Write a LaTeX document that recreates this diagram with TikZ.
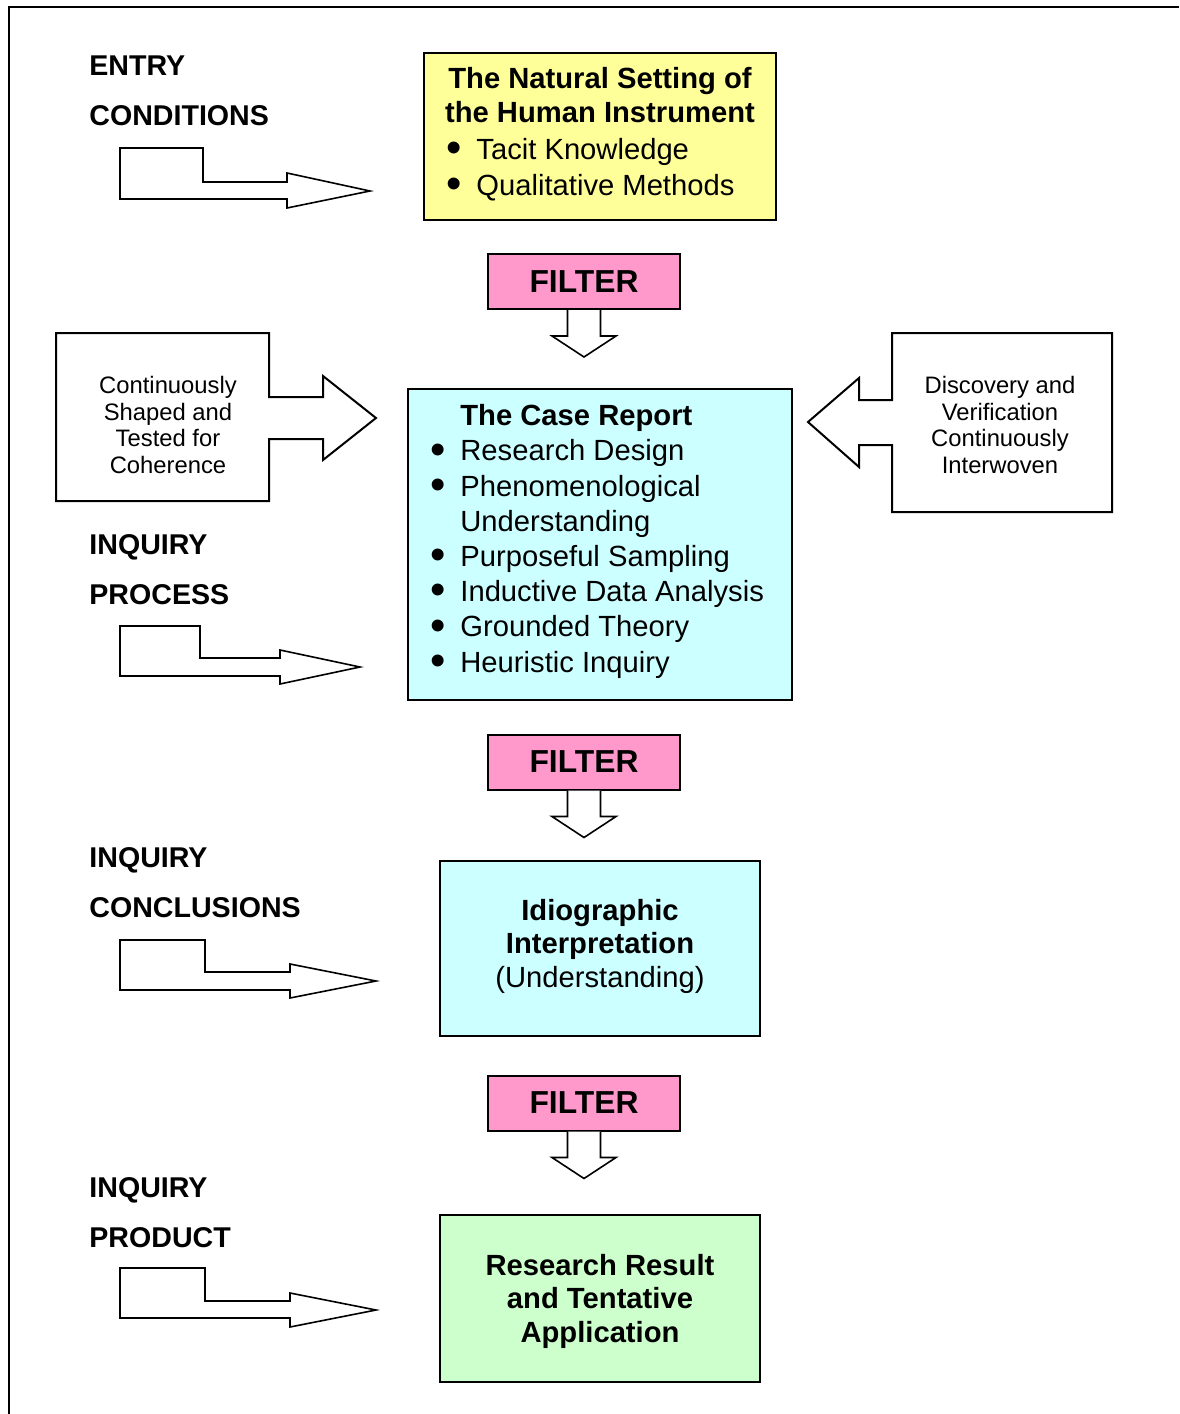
\documentclass[tikz,border=0pt]{standalone}
\usepackage{fontspec}
\usepackage{graphicx}
\setmainfont{Liberation Sans}
\usetikzlibrary{fit, calc}
\definecolor{pad}{RGB}{255,255,153}
\definecolor{rose}{RGB}{255,153,204}
\definecolor{aqua}{RGB}{204,255,255}
\definecolor{mint}{RGB}{204,255,204}
\newcommand{\itm}{\makebox[15pt][l]{\smash{\raisebox{-1.6pt}{\scalebox{1.5}{\textbullet}}}}}

\begin{document}
\begin{tikzpicture}[
  x=0.5pt, y=-0.5pt,
  bx/.style={draw=black, line width=1pt, inner sep=0pt},
  flt/.style={draw=black, line width=1pt, fill=rose, inner sep=0pt,
              minimum width=96pt, minimum height=27.5pt,
              font=\fontsize{15.9}{19}\selectfont\bfseries},
  blk/.style={draw=black, line width=0.8pt, fill=white, line join=miter},
  lbl/.style={anchor=base west, align=left, inner sep=0pt,
              font=\fontsize{14.3}{25}\selectfont\bfseries},
  txt/.style={anchor=base, align=center, inner sep=0pt,
              font=\fontsize{14.6}{16.65}\selectfont},
  lst/.style={anchor=base west, align=left, inner sep=0pt,
              font=\fontsize{14.6}{17.6}\selectfont},
  sd/.style={anchor=base, align=center, inner sep=0pt,
             font=\fontsize{11.9}{13.2}\selectfont}]
  \useasboundingbox (0,0) rectangle (1179,1414);
  \draw[line width=1.3pt] (1179,7) -- (9,7) -- (9,1414);

  \node[bx, fill=pad, fit={(424,53) (776,220)}] (setting) {};
  \node[txt, font=\fontsize{14.6}{16.7}\selectfont\bfseries] (settitle) at (600,122)
    {The Natural Setting of\\the Human Instrument};
  \node[lst, font=\fontsize{14.6}{18}\selectfont] (setlist) at (446,195)
    {\itm Tacit Knowledge\\\itm Qualitative Methods};

  \node[flt] (filterA) at (584,281.5) {FILTER};
  \draw[blk] ($(filterA.south)+(-16.5,0)$) -- ++(0,26) -- ++(-15.5,0)
    -- ($(filterA.south)+(0,47)$) -- ($(filterA.south)+(32,26)$)
    -- ++(-15.5,0) -- ++(0,-26);

  \node[bx, fill=aqua, fit={(408,389) (792,700)}] (report) {};
  \node[lst] (reportlist) at (430,672)
    {\hspace*{15pt}\textbf{The Case Report}\\
     \itm Research Design\\
     \itm Phenomenological\\
     \hspace*{15pt}Understanding\\
     \itm Purposeful Sampling\\
     \itm Inductive Data Analysis\\
     \itm Grounded Theory\\
     \itm Heuristic Inquiry};

  \draw[bx, fill=white] (56,333) -- (269,333) -- (269,397) -- (323,397)
    -- (323,376) -- (376,418) -- (323,460) -- (323,439) -- (269,439)
    -- (269,501) -- (56,501) -- cycle;
  \node[sd] (shaped) at (168,473)
    {Continuously\\Shaped and\\Tested for\\Coherence};
  \draw[bx, fill=white] (1112,333) -- (892,333) -- (892,400) -- (859,400)
    -- (859,378) -- (808,422) -- (859,467) -- (859,445) -- (892,445)
    -- (892,512) -- (1112,512) -- cycle;
  \node[sd] (discovery) at (1000,473)
    {Discovery and\\Verification\\Continuously\\Interwoven};

  \node[lbl] (entry) at (89,125) {ENTRY\\CONDITIONS};
  \draw[blk] (120,148) -- (203,148) -- (203,182) -- (287,182) -- (287,173)
    -- (370,191) -- (287,208) -- (287,199) -- (120,199) -- cycle;
  \node[lbl] (process) at (89,604) {INQUIRY\\PROCESS};
  \draw[blk] (120,626) -- (200,626) -- (200,658) -- (280,658) -- (280,650)
    -- (360,667) -- (280,684) -- (280,676) -- (120,676) -- cycle;
  \node[lbl] (conclusions) at (89,917) {INQUIRY\\CONCLUSIONS};
  \draw[blk] (120,940) -- (205,940) -- (205,972) -- (290,972) -- (290,964)
    -- (376,981) -- (290,998) -- (290,990) -- (120,990) -- cycle;
  \node[lbl] (product) at (89,1247) {INQUIRY\\PRODUCT};
  \draw[blk] (120,1268) -- (205,1268) -- (205,1301) -- (290,1301) -- (290,1293)
    -- (376,1310) -- (290,1327) -- (290,1318) -- (120,1318) -- cycle;

  \node[flt] (filterB) at (584,762) {FILTER};
  \draw[blk] ($(filterB.south)+(-16.5,0)$) -- ++(0,26) -- ++(-15.5,0)
    -- ($(filterB.south)+(0,47)$) -- ($(filterB.south)+(32,26)$)
    -- ++(-15.5,0) -- ++(0,-26);

  \node[bx, fill=aqua, fit={(440,861) (760,1036)}] (idio) {};
  \node[txt] (idiotext) at (600,987)
    {\textbf{Idiographic}\\\textbf{Interpretation}\\(Understanding)};

  \node[flt] (filterC) at (584,1103) {FILTER};
  \draw[blk] ($(filterC.south)+(-16.5,0)$) -- ++(0,26) -- ++(-15.5,0)
    -- ($(filterC.south)+(0,47)$) -- ($(filterC.south)+(32,26)$)
    -- ++(-15.5,0) -- ++(0,-26);

  \node[bx, fill=mint, fit={(440,1215) (760,1382)}] (result) {};
  \node[txt, font=\fontsize{14.6}{16.65}\selectfont\bfseries] (resulttext) at (600,1342)
    {Research Result\\and Tentative\\Application};
\end{tikzpicture}
\end{document}
